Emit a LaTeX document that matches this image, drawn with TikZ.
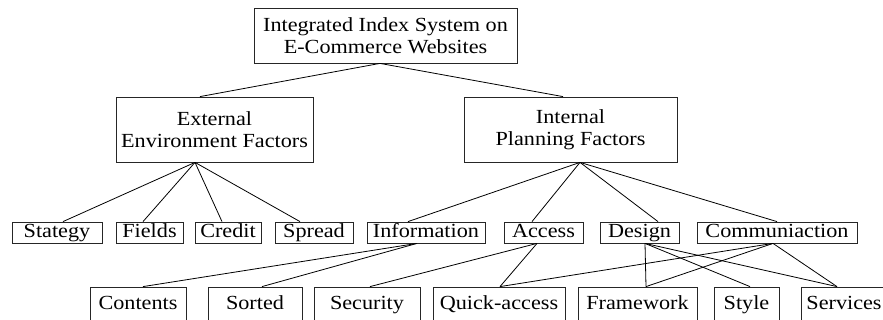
\documentclass[tikz,border=0pt]{standalone}
\usepackage{fontspec}
\setmainfont{Liberation Serif}[FakeStretch=1.11]
\begin{document}
\begin{tikzpicture}[x=1pt,y=-1pt,
  box/.style={draw=black!85,line width=0.8pt,rectangle,inner sep=0pt,align=center,
    font=\fontsize{20}{22.5}\selectfont},
  one/.style={box,text height=13.5pt,text depth=4pt},
  link/.style={draw=black,line width=0.8pt}]
\useasboundingbox (0,0) rectangle (883,320);
% level 1
\node[box,minimum width=263pt,minimum height=55pt] (top) at (385.5,35.5) {Integrated Index System on\\E-Commerce Websites};
% level 2
\node[box,minimum width=197pt,minimum height=65pt] (ext) at (214.5,129.5) {External\\Environment Factors};
\node[box,minimum width=213pt,minimum height=65pt] (int) at (570.5,129.5) {Internal\\Planning Factors};
% level 3
\node[one,minimum width=90pt,minimum height=21pt] (stg) at (57,232.5) {Stategy};
\node[one,minimum width=67pt,minimum height=21pt] (fld) at (149.5,232.5) {Fields};
\node[one,minimum width=66pt,minimum height=21pt] (crd) at (228,232.5) {Credit};
\node[one,minimum width=78pt,minimum height=21pt] (spr) at (314,232.5) {Spread};
\node[one,minimum width=118pt,minimum height=21pt] (inf) at (426,232.5) {Information};
\node[one,minimum width=79pt,minimum height=21pt] (acc) at (543.5,232.5) {Access};
\node[one,minimum width=79pt,minimum height=21pt] (des) at (639.5,232.5) {Design};
\node[one,minimum width=160pt,minimum height=21pt] (com) at (777,232.5) {Communiaction};
% level 4
\node[one,minimum width=96pt,minimum height=35pt] (cnt) at (138,304.5) {Contents};
\node[one,minimum width=94pt,minimum height=35pt] (srt) at (255,304.5) {Sorted};
\node[one,minimum width=106pt,minimum height=35pt] (sec) at (367,304.5) {Security};
\node[one,minimum width=132pt,minimum height=35pt] (qck) at (499,304.5) {Quick-access};
\node[one,minimum width=119pt,minimum height=35pt] (frm) at (637.5,304.5) {Framework};
\node[one,minimum width=65pt,minimum height=35pt] (sty) at (746.5,304.5) {Style};
\node[one,minimum width=86pt,minimum height=35pt] (srv) at (844,304.5) {Services};
% connectors level 1-2
\draw[link] ([xshift=-5.5pt]top.south) -- ([xshift=-14.5pt]ext.north);
\draw[link] ([xshift=-5.5pt]top.south) -- ([xshift=-7.5pt]int.north);
% level 2-3
\draw[link] ([xshift=-19.5pt]ext.south) -- ([xshift=6pt]stg.north);
\draw[link] ([xshift=-19.5pt]ext.south) -- ([xshift=-6.5pt]fld.north);
\draw[link] ([xshift=-19.5pt]ext.south) -- ([xshift=-6pt]crd.north);
\draw[link] ([xshift=-19.5pt]ext.south) -- ([xshift=-14pt]spr.north);
\draw[link] ([xshift=9.5pt]int.south) -- ([xshift=-18pt]inf.north);
\draw[link] ([xshift=9.5pt]int.south) -- ([xshift=-11.5pt]acc.north);
\draw[link] ([xshift=9.5pt]int.south) -- ([xshift=18.5pt]des.north);
\draw[link] ([xshift=9.5pt]int.south) -- (com.north);
% level 3-4
\draw[link] ([xshift=-9pt]inf.south) -- ([xshift=5pt]cnt.north);
\draw[link] ([xshift=-9pt]inf.south) -- ([xshift=7pt]srt.north);
\draw[link] ([xshift=-6.5pt]acc.south) -- ([xshift=3pt]sec.north);
\draw[link] ([xshift=-6.5pt]acc.south) -- ([xshift=1pt]qck.north);
\draw[link] ([xshift=5.5pt]des.south) -- ([xshift=8.5pt]frm.north);
\draw[link] ([xshift=5.5pt]des.south) -- ([xshift=3.5pt]sty.north);
\draw[link] ([xshift=5.5pt]des.south) -- ([xshift=-7pt]srv.north);
\draw[link] ([xshift=-4pt]com.south) -- ([xshift=1pt]qck.north);
\draw[link] ([xshift=-4pt]com.south) -- ([xshift=8.5pt]frm.north);
\draw[link] ([xshift=-4pt]com.south) -- ([xshift=-7pt]srv.north);
\end{tikzpicture}
\end{document}
